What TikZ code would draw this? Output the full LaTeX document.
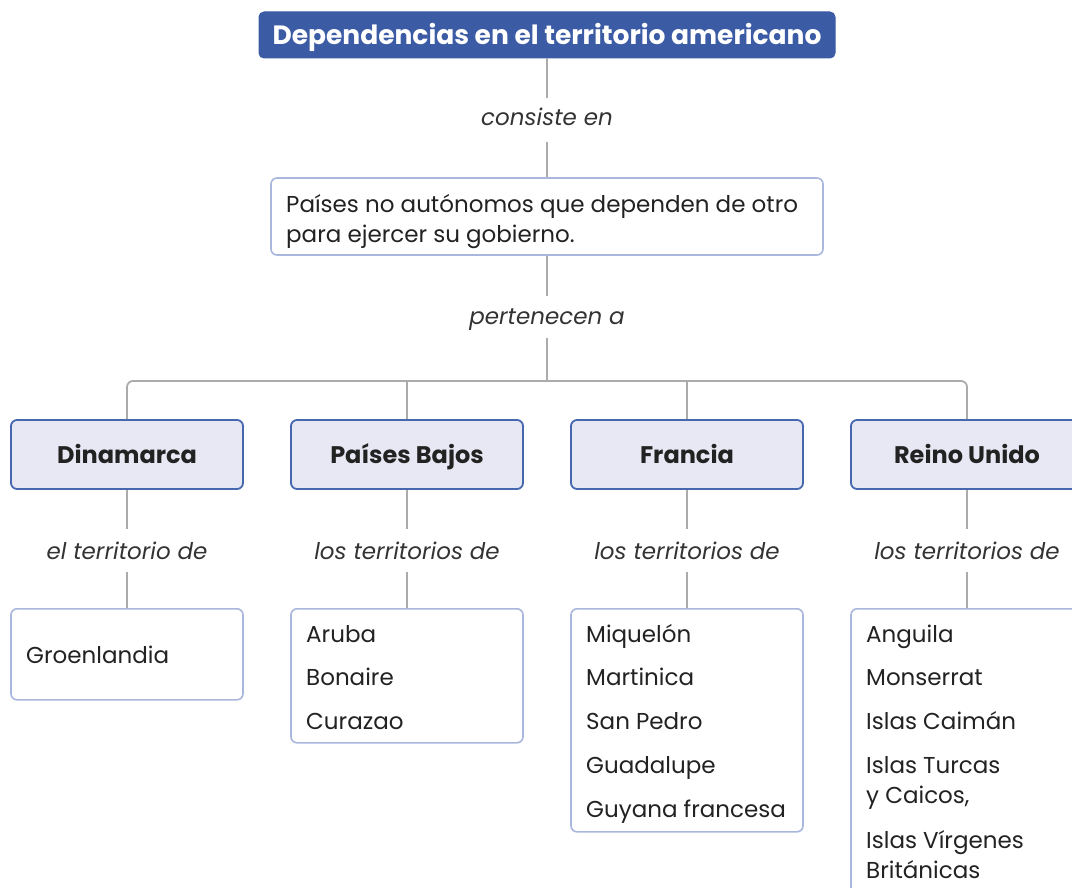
\documentclass[tikz,border=0pt]{standalone}
\usepackage{fontspec}
\setmainfont{Poppins}
\definecolor{titleblue}{HTML}{3C5BA5}
\definecolor{countryfill}{HTML}{E7E8F3}
\definecolor{countryborder}{HTML}{4767AE}
\definecolor{listborder}{HTML}{A9B7DD}
\definecolor{linegray}{HTML}{ABABAB}
\definecolor{txt}{HTML}{222222}
\definecolor{lbl}{HTML}{333333}
\tikzset{
  titlebox/.style={draw=titleblue, fill=titleblue, rounded corners=5pt, line width=1pt, inner sep=0pt, font=\fontsize{26.5}{30}\selectfont\bfseries, text=white, text height=18.5pt, text depth=0pt},
  descbox/.style={draw=listborder, fill=white, rounded corners=6pt, line width=1.6pt, inner sep=0pt},
  countrybox/.style={draw=countryborder, fill=countryfill, rounded corners=6pt, line width=1.8pt, inner sep=0pt, font=\fontsize{24}{28}\selectfont\bfseries, text=txt, text height=17pt, text depth=0pt},
  listbox/.style={draw=listborder, fill=white, rounded corners=6pt, line width=1.6pt, inner sep=0pt},
  conn/.style={draw=linegray, line width=1.8pt},
  linklabel/.style={font=\fontsize{23}{27}\selectfont\itshape, text=lbl, inner sep=0pt, anchor=base},
  item/.style={font=\fontsize{23}{27}\selectfont, text=txt, anchor=base west, inner sep=0pt},
}
\begin{document}
\begin{tikzpicture}[x=1pt,y=-1pt]
\useasboundingbox (0,0) rectangle (1072,888);
% title
\node[titlebox, minimum width=576pt, minimum height=46pt] (title) at (547,35) {Dependencias en el territorio americano};
% label 1
\node[linklabel] (l1) at (547,126) {consiste en};
% description box
\node[descbox, minimum width=552pt, minimum height=77pt] (desc) at (547,216.5) {};
\node[item] (d1) at (286,212) {Países no autónomos que dependen de otro};
\node[item] (d2) at (286,243) {para ejercer su gobierno.};
% label 2
\node[linklabel] (l2) at (547,324) {pertenecen a};
\draw[conn] (title.south) -- ++(0,40) coordinate (c1a);
\draw[conn] (547,142) coordinate (c1b) -- (desc.north);
\draw[conn] (desc.south) -- ++(0,40);
\draw[conn] (547,338) coordinate (c2b) -- (547,381) coordinate (hub);
% countries
\foreach \n/\x/\t/\l in {dk/127/Dinamarca/el territorio de, nl/407/Países Bajos/los territorios de, fr/687/Francia/los territorios de, uk/967/Reino Unido/los territorios de}{
  \node[countrybox, minimum width=232pt, minimum height=69pt] (\n) at (\x,454.5) {\t};
  \node[linklabel] (lab\n) at (\x,559) {\l};
  \draw[conn] (\n.south) -- ++(0,39);
}
\draw[conn, rounded corners=6pt] (dk.north) -- (127,381) -- (967,381) -- (uk.north);
\draw[conn] (407,381) -- (nl.north);
\draw[conn] (687,381) -- (fr.north);
% list boxes
\node[listbox, minimum width=232pt, minimum height=91pt, anchor=north] (gdk) at (127,608) {};
\node[listbox, minimum width=232pt, minimum height=134pt, anchor=north] (gnl) at (407,608) {};
\node[listbox, minimum width=232pt, minimum height=223pt, anchor=north] (gfr) at (687,608) {};
\node[listbox, minimum width=232pt, minimum height=320pt, anchor=north] (guk) at (967,608) {};
\draw[conn] (127,572) -- (gdk.north);
\draw[conn] (407,572) -- (gnl.north);
\draw[conn] (687,572) -- (gfr.north);
\draw[conn] (967,572) -- (guk.north);
% items
\node[item] at (26,663) {Groenlandia};
\node[item] at (306,642) {Aruba};
\node[item] at (306,685) {Bonaire};
\node[item] at (306,729) {Curazao};
\node[item] at (586,642) {Miquelón};
\node[item] at (586,685) {Martinica};
\node[item] at (586,729) {San Pedro};
\node[item] at (586,773) {Guadalupe};
\node[item] at (586,817) {Guyana francesa};
\node[item] at (866,642) {Anguila};
\node[item] at (866,685) {Monserrat};
\node[item] at (866,729) {Islas Caimán};
\node[item] at (866,773) {Islas Turcas};
\node[item] at (866,803) {y Caicos,};
\node[item] at (866,848) {Islas Vírgenes};
\node[item] at (866,878) {Británicas};
\end{tikzpicture}
\end{document}
